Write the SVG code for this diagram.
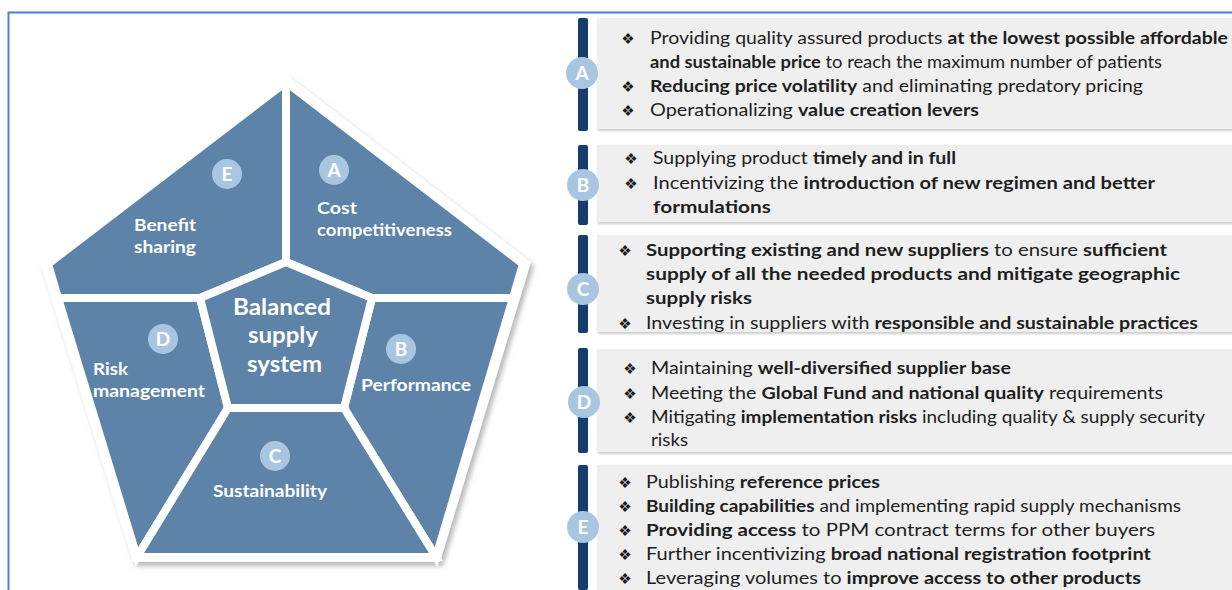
<svg xmlns="http://www.w3.org/2000/svg" width="1232" height="590" viewBox="0 0 1232 590">
<defs>
<style>
.reg{fill:#5D83A9;stroke:#FFFFFF;stroke-width:8;stroke-linejoin:miter}
.badge{fill:#A9C6E1}
.bl{font-family:Lato,"Open Sans","Liberation Sans",sans-serif;font-weight:bold;fill:#FFFFFF}
.lbl{font-family:Lato,"Open Sans","Liberation Sans",sans-serif;font-weight:bold;font-size:17px;fill:#FFFFFF}
.ctr{font-family:Lato,"Open Sans","Liberation Sans",sans-serif;font-weight:bold;font-size:23px;fill:#FFFFFF}
.box{fill:#EFEFEF}
.bar{fill:#163E6C}
.t{font-family:Lato,"Open Sans","Liberation Sans",sans-serif;font-size:17px;fill:#1E1E1E}
.b{font-weight:bold}
.bu{font-family:"DejaVu Sans",sans-serif;font-size:15px;fill:#1E1E1E}
</style>
<filter id="sh" x="-10%" y="-10%" width="120%" height="120%">
<feDropShadow dx="3" dy="4" stdDeviation="2.5" flood-color="#8A8A8A" flood-opacity="0.6"/>
</filter>
<filter id="bs" x="-5%" y="-10%" width="110%" height="130%">
<feDropShadow dx="1" dy="2" stdDeviation="1.2" flood-color="#9A9A9A" flood-opacity="0.5"/>
</filter>
</defs>
<rect x="0" y="0" width="1232" height="590" fill="#FFFFFF"/>
<path d="M8.5 590 V12.5 H1232" fill="none" stroke="#4F7FD0" stroke-width="2"/>

<g id="pentagon">
<polygon points="286,74 531,262 440,562 133,562 40,262" fill="#FFFFFF" filter="url(#sh)"/>
<g id="node-E"><polygon class="reg" points="286,82 286,262 200,298 58,298 48,264"/></g>
<g id="node-A"><polygon class="reg" points="286,82 523,264 513,298 372,298 286,262"/></g>
<g id="node-D"><polygon class="reg" points="58,298 200,298 228,408 137,557"/></g>
<g id="node-B"><polygon class="reg" points="372,298 513,298 436,557 344,408"/></g>
<g id="node-C"><polygon class="reg" points="228,408 344,408 436,557 137,557"/></g>
<g id="node-center"><polygon class="reg" points="286,262 372,298 344,408 228,408 200,298"/></g>
</g>

<g id="pentagon-labels">
<circle class="badge" cx="227" cy="174" r="15"/><text class="bl" x="227" y="181" font-size="19" text-anchor="middle">E</text>
<text class="lbl" x="134" y="231" textLength="62" lengthAdjust="spacingAndGlyphs">Benefit</text><text class="lbl" x="134" y="253" textLength="62" lengthAdjust="spacingAndGlyphs">sharing</text>
<circle class="badge" cx="334" cy="170" r="15"/><text class="bl" x="334" y="177" font-size="19" text-anchor="middle">A</text>
<text class="lbl" x="317" y="214" textLength="40" lengthAdjust="spacingAndGlyphs">Cost</text><text class="lbl" x="317" y="236" textLength="135" lengthAdjust="spacingAndGlyphs">competitiveness</text>
<circle class="badge" cx="163" cy="339" r="15"/><text class="bl" x="163" y="346" font-size="19" text-anchor="middle">D</text>
<text class="lbl" x="93" y="375" textLength="35" lengthAdjust="spacingAndGlyphs">Risk</text><text class="lbl" x="93" y="397" textLength="112" lengthAdjust="spacingAndGlyphs">management</text>
<circle class="badge" cx="401" cy="349" r="15"/><text class="bl" x="401" y="356" font-size="19" text-anchor="middle">B</text>
<text class="lbl" x="361" y="391" textLength="110" lengthAdjust="spacingAndGlyphs">Performance</text>
<circle class="badge" cx="275" cy="456" r="15"/><text class="bl" x="275" y="463" font-size="19" text-anchor="middle">C</text>
<text class="lbl" x="213" y="497" textLength="114" lengthAdjust="spacingAndGlyphs">Sustainability</text>
<text class="ctr" x="233" y="315" textLength="98" lengthAdjust="spacingAndGlyphs">Balanced</text>
<text class="ctr" x="248" y="343" textLength="70" lengthAdjust="spacingAndGlyphs">supply</text>
<text class="ctr" x="247" y="372" textLength="75" lengthAdjust="spacingAndGlyphs">system</text>
</g>

<g id="panel-A">
<rect class="box" x="597" y="18" width="635" height="111" filter="url(#bs)"/>
<rect class="bar" x="578" y="18" width="10" height="113" rx="2"/>
<circle class="badge" cx="582" cy="73" r="16"/><text class="bl" x="582" y="80" font-size="19" text-anchor="middle">A</text>
<text class="bu" x="628" y="44" text-anchor="middle">❖</text>
<text class="t" x="650" y="44" textLength="578" lengthAdjust="spacingAndGlyphs">Providing quality assured products <tspan class="b">at the lowest possible affordable</tspan></text>
<text class="t" x="650" y="68" textLength="512" lengthAdjust="spacingAndGlyphs"><tspan class="b">and sustainable price</tspan> to reach the maximum number of patients</text>
<text class="bu" x="628" y="92" text-anchor="middle">❖</text>
<text class="t" x="650" y="92" textLength="493" lengthAdjust="spacingAndGlyphs"><tspan class="b">Reducing price volatility</tspan> and eliminating predatory pricing</text>
<text class="bu" x="628" y="116" text-anchor="middle">❖</text>
<text class="t" x="650" y="116" textLength="329" lengthAdjust="spacingAndGlyphs">Operationalizing <tspan class="b">value creation levers</tspan></text>
</g>

<g id="panel-B">
<rect class="box" x="597" y="145" width="635" height="77" filter="url(#bs)"/>
<rect class="bar" x="578" y="145" width="10" height="80" rx="2"/>
<circle class="badge" cx="583" cy="185" r="16"/><text class="bl" x="583" y="192" font-size="19" text-anchor="middle">B</text>
<text class="bu" x="631" y="164" text-anchor="middle">❖</text>
<text class="t" x="653" y="164" textLength="303" lengthAdjust="spacingAndGlyphs">Supplying product <tspan class="b">timely and in full</tspan></text>
<text class="bu" x="631" y="189" text-anchor="middle">❖</text>
<text class="t" x="653" y="189" textLength="502" lengthAdjust="spacingAndGlyphs">Incentivizing the <tspan class="b">introduction of new regimen and better</tspan></text>
<text class="t" x="653" y="213" textLength="118" lengthAdjust="spacingAndGlyphs"><tspan class="b">formulations</tspan></text>
</g>

<g id="panel-C">
<rect class="box" x="597" y="235" width="635" height="97" filter="url(#bs)"/>
<rect class="bar" x="578" y="235" width="10" height="98" rx="2"/>
<circle class="badge" cx="583" cy="289" r="16"/><text class="bl" x="583" y="296" font-size="19" text-anchor="middle">C</text>
<text class="bu" x="625" y="256" text-anchor="middle">❖</text>
<text class="t" x="646" y="256" textLength="521" lengthAdjust="spacingAndGlyphs"><tspan class="b">Supporting existing and new suppliers</tspan> to ensure <tspan class="b">sufficient</tspan></text>
<text class="t" x="646" y="280" textLength="534" lengthAdjust="spacingAndGlyphs"><tspan class="b">supply of all the needed products and mitigate geographic</tspan></text>
<text class="t" x="646" y="304" textLength="106" lengthAdjust="spacingAndGlyphs"><tspan class="b">supply risks</tspan></text>
<text class="bu" x="625" y="329" text-anchor="middle">❖</text>
<text class="t" x="646" y="329" textLength="552" lengthAdjust="spacingAndGlyphs">Investing in suppliers with <tspan class="b">responsible and sustainable practices</tspan></text>
</g>

<g id="panel-D">
<rect class="box" x="597" y="349" width="635" height="103" filter="url(#bs)"/>
<rect class="bar" x="578" y="348" width="10" height="105" rx="2"/>
<circle class="badge" cx="584" cy="402" r="16"/><text class="bl" x="584" y="409" font-size="19" text-anchor="middle">D</text>
<text class="bu" x="630" y="374" text-anchor="middle">❖</text>
<text class="t" x="651" y="374" textLength="360" lengthAdjust="spacingAndGlyphs">Maintaining <tspan class="b">well-diversified supplier base</tspan></text>
<text class="bu" x="630" y="399" text-anchor="middle">❖</text>
<text class="t" x="651" y="399" textLength="512" lengthAdjust="spacingAndGlyphs">Meeting the <tspan class="b">Global Fund and national quality</tspan> requirements</text>
<text class="bu" x="630" y="423" text-anchor="middle">❖</text>
<text class="t" x="651" y="423" textLength="554" lengthAdjust="spacingAndGlyphs">Mitigating <tspan class="b">implementation risks</tspan> including quality &amp; supply security</text>
<text class="t" x="651" y="446" textLength="37" lengthAdjust="spacingAndGlyphs">risks</text>
</g>

<g id="panel-E">
<rect class="box" x="597" y="465" width="635" height="125"/>
<rect class="bar" x="578" y="465" width="10" height="125" rx="2"/>
<circle class="badge" cx="583" cy="527" r="16"/><text class="bl" x="583" y="534" font-size="19" text-anchor="middle">E</text>
<text class="bu" x="625" y="488" text-anchor="middle">❖</text>
<text class="t" x="646" y="488" textLength="234" lengthAdjust="spacingAndGlyphs">Publishing <tspan class="b">reference prices</tspan></text>
<text class="bu" x="625" y="512" text-anchor="middle">❖</text>
<text class="t" x="646" y="512" textLength="535" lengthAdjust="spacingAndGlyphs"><tspan class="b">Building capabilities</tspan> and implementing rapid supply mechanisms</text>
<text class="bu" x="625" y="536" text-anchor="middle">❖</text>
<text class="t" x="646" y="536" textLength="509" lengthAdjust="spacingAndGlyphs"><tspan class="b">Providing access</tspan> to PPM contract terms for other buyers</text>
<text class="bu" x="625" y="560" text-anchor="middle">❖</text>
<text class="t" x="646" y="560" textLength="505" lengthAdjust="spacingAndGlyphs">Further incentivizing <tspan class="b">broad national registration footprint</tspan></text>
<text class="bu" x="625" y="584" text-anchor="middle">❖</text>
<text class="t" x="646" y="584" textLength="495" lengthAdjust="spacingAndGlyphs">Leveraging volumes to <tspan class="b">improve access to other products</tspan></text>
</g>
</svg>
